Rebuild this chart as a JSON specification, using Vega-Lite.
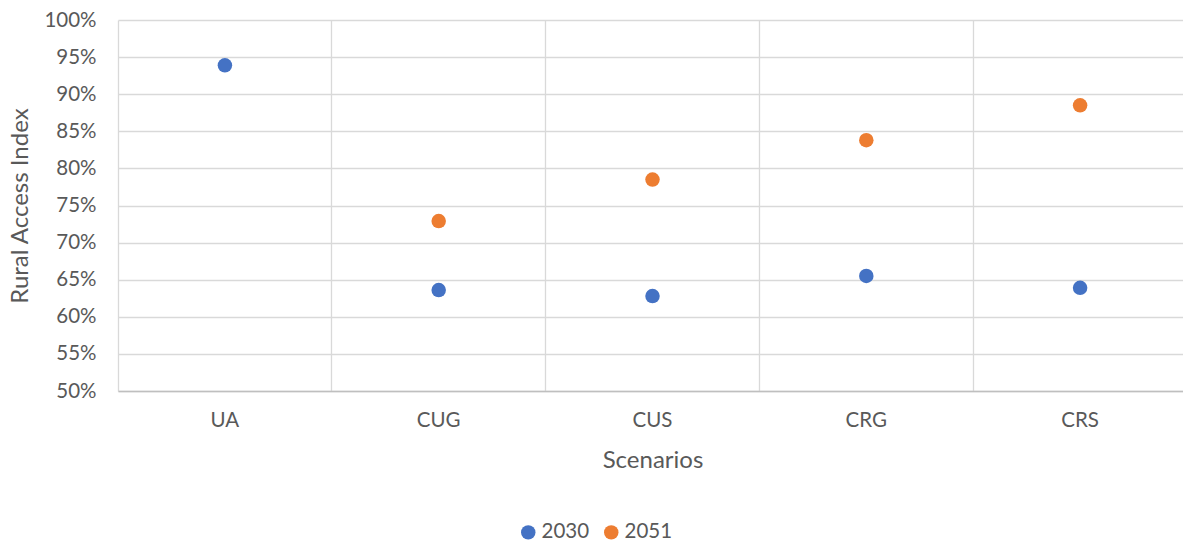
{
  "$schema": "https://vega.github.io/schema/vega-lite/v6.json",
  "autosize": "none",
  "padding": {"left": 118, "top": 20, "right": 0, "bottom": 151},
  "width": 1069,
  "height": 371,
  "background": "white",
  "config": {
    "view": {"stroke": null},
    "font": "Lato",
    "axis": {"labelFont": "Lato", "titleFont": "Lato", "labelColor": "#595959", "titleColor": "#595959", "titleFontWeight": "normal", "gridColor": "#d9d9d9", "gridWidth": 1.3},
    "legend": {"labelFont": "Lato", "labelColor": "#595959"}
  },
  "data": {
    "values": [
      {"scenario": "UA", "year": "2030", "value": 0.939},
      {"scenario": "CUG", "year": "2030", "value": 0.636},
      {"scenario": "CUG", "year": "2051", "value": 0.729},
      {"scenario": "CUS", "year": "2030", "value": 0.628},
      {"scenario": "CUS", "year": "2051", "value": 0.785},
      {"scenario": "CRG", "year": "2030", "value": 0.655},
      {"scenario": "CRG", "year": "2051", "value": 0.838},
      {"scenario": "CRS", "year": "2030", "value": 0.639},
      {"scenario": "CRS", "year": "2051", "value": 0.885}
    ]
  },
  "mark": {"type": "point", "filled": true, "shape": "circle", "size": 210, "opacity": 1},
  "encoding": {
    "x": {
      "field": "scenario", "type": "nominal",
      "sort": ["UA", "CUG", "CUS", "CRG", "CRS"],
      "scale": {"type": "band", "paddingInner": 0, "paddingOuter": 0},
      "axis": {
        "title": "Scenarios", "titleFontSize": 24, "titlePadding": 18,
        "labelAngle": 0, "labelFontSize": 20.5, "labelPadding": 19,
        "ticks": false, "grid": true, "bandPosition": 0,
        "domainColor": "#bfbfbf", "domainWidth": 1.5
      }
    },
    "y": {
      "field": "value", "type": "quantitative",
      "scale": {"domain": [0.5, 1], "nice": false, "zero": false},
      "axis": {
        "title": "Rural Access Index", "titleFontSize": 24, "titlePadding": 11,
        "format": ".0%", "values": [0.5, 0.55, 0.6, 0.65, 0.7, 0.75, 0.8, 0.85, 0.9, 0.95, 1.0],
        "labelFontSize": 20.5, "labelPadding": 22, "ticks": false, "domain": false
      }
    },
    "color": {
      "field": "year", "type": "nominal",
      "scale": {"domain": ["2030", "2051"], "range": ["#4472C4", "#ED7D31"]},
      "legend": {
        "title": null, "orient": "none", "direction": "horizontal",
        "legendX": 400, "legendY": 502, "padding": 0,
        "symbolType": "circle", "symbolSize": 210, "symbolStrokeWidth": 0,
        "labelFontSize": 20.5, "labelOffset": 3, "columnPadding": 11
      }
    }
  }
}
